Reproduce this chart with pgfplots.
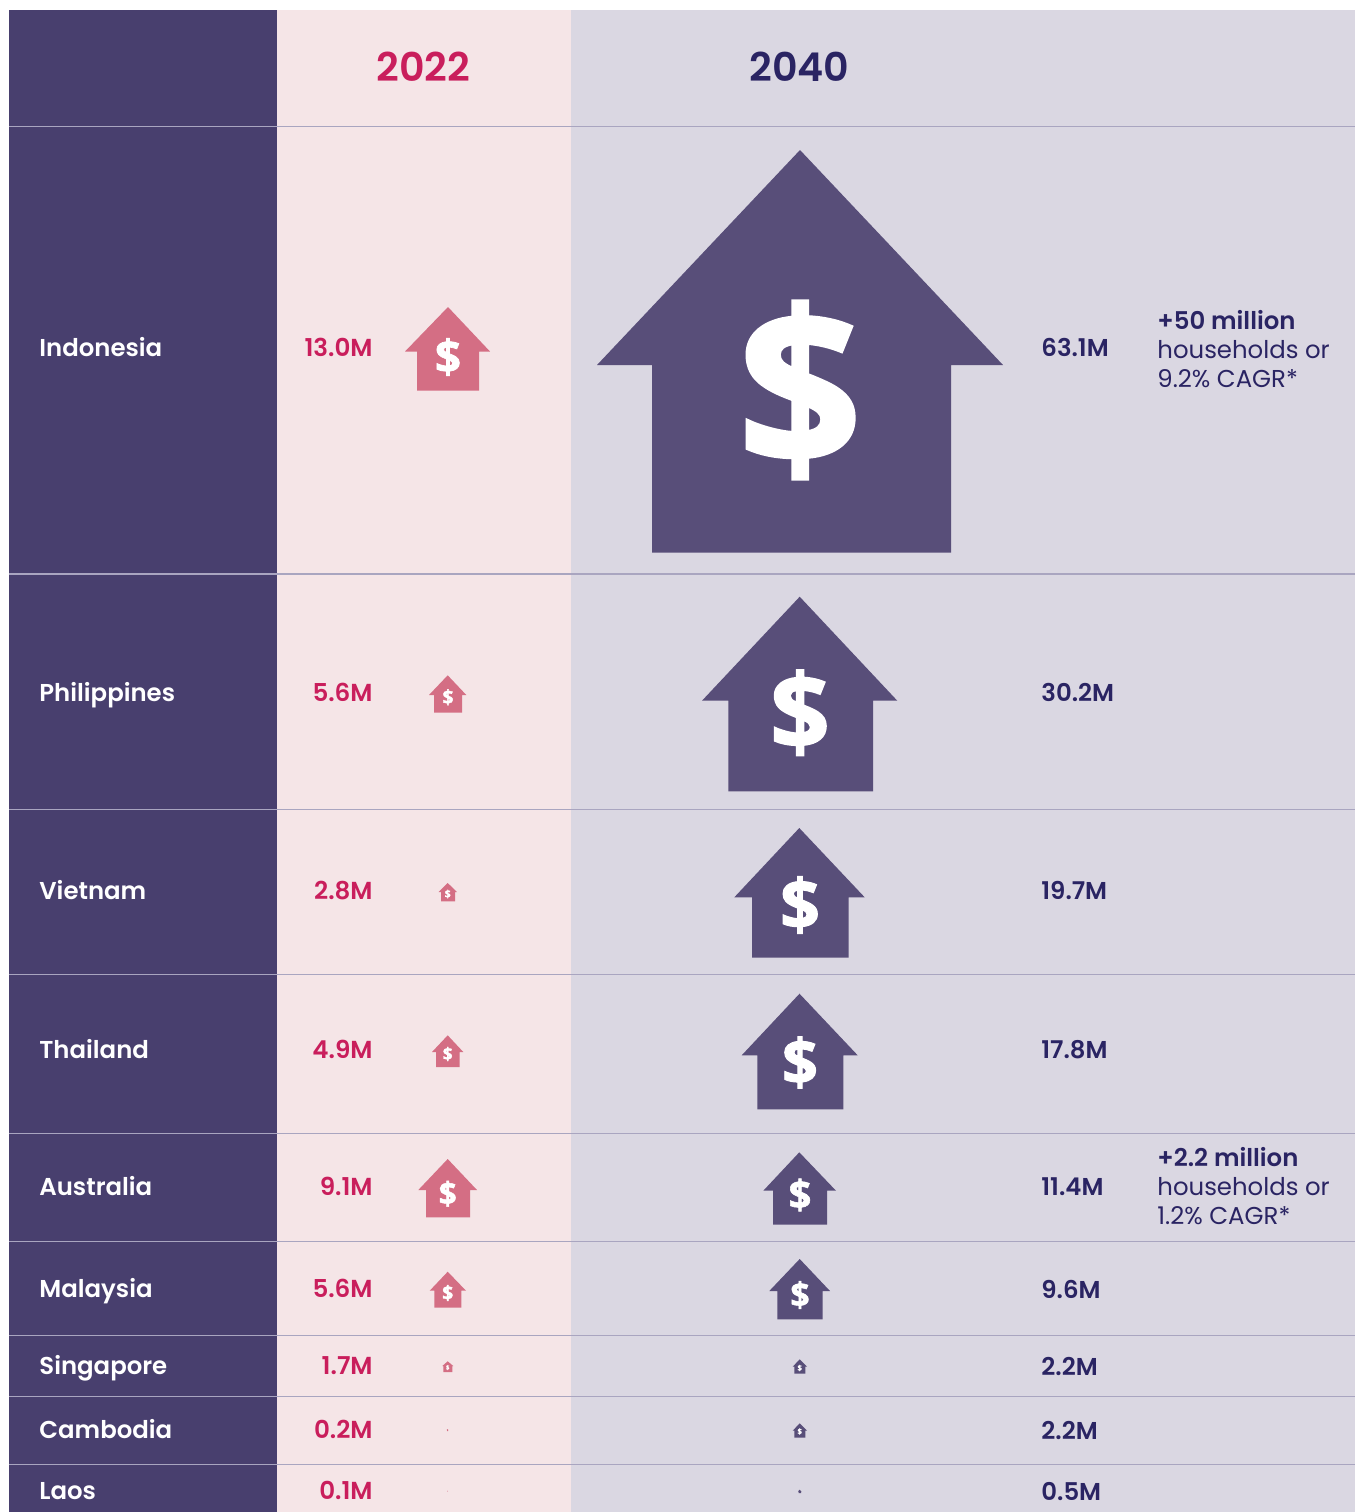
\documentclass[border=0pt]{standalone}
\usepackage{pgfplots}
\pgfplotsset{compat=1.18}
\usepackage{fontspec}
\setmainfont{Poppins}
\newfontfamily\medfont{Poppins Medium}
\newfontfamily\semifont{Poppins SemiBold}
\newfontfamily\dollarfont[BoldFeatures={FakeBold=1.5}]{Open Sans}

\definecolor{colDark}{HTML}{483F6E}
\definecolor{bgPink}{HTML}{F5E5E7}
\definecolor{bgGrey}{HTML}{DAD7E2}
\definecolor{rowLine}{HTML}{A9A5C0}
\definecolor{housePink}{HTML}{D46E84}
\definecolor{housePurple}{HTML}{584E79}
\definecolor{textPink}{HTML}{C91E5C}
\definecolor{textNavy}{HTML}{2A2463}

% country name, value 2022, value 2040 (x fixed, y = baseline in px)
\newcommand{\country}[2]{\node[anchor=base west,inner sep=0pt,text=white,font=\semifont\fontsize{12.2}{15}\selectfont] at (axis cs:39,#1) {#2};}
\newcommand{\valA}[2]{\node[anchor=base east,inner sep=0pt,text=textPink,font=\semifont\fontsize{12.3}{15}\selectfont] at (axis cs:373,#1) {#2};}
\newcommand{\valB}[2]{\node[anchor=base west,inner sep=0pt,text=textNavy,font=\semifont\fontsize{12.2}{15}\selectfont] at (axis cs:1041,#1) {#2};}
\newcommand{\usd}[3]{\node[inner sep=0pt,text=white,font=\dollarfont\bfseries\fontsize{#3}{#3}\selectfont] at (axis cs:#1,#2) {\$};}
\newcommand{\note}[3]{\node[anchor=base west,inner sep=0pt,text=textNavy,font=#2\fontsize{12.2}{15}\selectfont] at (axis cs:1157,#1) {#3};}

\begin{document}
\begin{tikzpicture}
\begin{axis}[
  width=677.5pt, height=756pt, scale only axis,
  xmin=0, xmax=1355, ymin=0, ymax=1512, y dir=reverse,
  hide axis, clip=true, no markers,
]
% page
\addplot[fill=white,draw=none] coordinates {(0,0) (1355,0) (1355,1512) (0,1512) (0,0)};
% column backgrounds
\addplot[fill=colDark,draw=none] coordinates {(9,10) (277,10) (277,1512) (9,1512) (9,10)};
\addplot[fill=bgPink,draw=none] coordinates {(277,10) (571,10) (571,1512) (277,1512) (277,10)};
\addplot[fill=bgGrey,draw=none] coordinates {(571,10) (1355,10) (1355,1512) (571,1512) (571,10)};
% row rules
\addplot[rowLine,line width=0.8pt] coordinates {(9,126.5) (1355,126.5)};
\addplot[rowLine,line width=0.8pt] coordinates {(9,574) (1355,574)};
\addplot[rowLine,line width=0.8pt] coordinates {(9,809.5) (1355,809.5)};
\addplot[rowLine,line width=0.8pt] coordinates {(9,974.5) (1355,974.5)};
\addplot[rowLine,line width=0.8pt] coordinates {(9,1133.5) (1355,1133.5)};
\addplot[rowLine,line width=0.8pt] coordinates {(9,1241.5) (1355,1241.5)};
\addplot[rowLine,line width=0.8pt] coordinates {(9,1335.5) (1355,1335.5)};
\addplot[rowLine,line width=0.8pt] coordinates {(9,1396.3) (1355,1396.3)};
\addplot[rowLine,line width=0.8pt] coordinates {(9,1464.3) (1355,1464.3)};

% houses 2022
\addplot[fill=housePink,draw=none] coordinates {(448,307) (490,351.5) (479,351.5) (479,390.5) (417,390.5) (417,351.5) (405,351.5) (448,307)};
\addplot[fill=housePink,draw=none] coordinates {(447.7,675.3) (466.3,695) (462,695) (462,712.7) (434,712.7) (434,695) (429,695) (447.7,675.3)};
\addplot[fill=housePink,draw=none] coordinates {(447.7,883) (457,892) (455,892) (455,901.3) (441,901.3) (441,892) (438.7,892) (447.7,883)};
\addplot[fill=housePink,draw=none] coordinates {(447.7,1035.3) (463.3,1052) (459.7,1052) (459.7,1067) (436,1067) (436,1052) (432,1052) (447.7,1035.3)};
\addplot[fill=housePink,draw=none] coordinates {(447.7,1159) (477,1190) (470,1190) (470,1217.3) (426,1217.3) (426,1190) (418.3,1190) (447.7,1159)};
\addplot[fill=housePink,draw=none] coordinates {(447.7,1271.7) (466,1290.7) (461.3,1290.7) (461.3,1307.7) (434.3,1307.7) (434.3,1290.7) (429.7,1290.7) (447.7,1271.7)};
\addplot[fill=housePink,draw=none] coordinates {(447.7,1361.3) (453.3,1366) (452.3,1366) (452.3,1372) (443.3,1372) (443.3,1366) (442.3,1366) (447.7,1361.3)};
\addplot[fill=housePink,draw=none] coordinates {(447.5,1429.2) (448.3,1430) (448,1430) (448,1431) (447,1431) (447,1430) (446.7,1430) (447.5,1429.2)};
\addplot[fill=housePink!60!bgPink,draw=none] coordinates {(447.5,1490.5) (448,1491) (447.9,1491) (447.9,1491.6) (447.1,1491.6) (447.1,1491) (447,1491) (447.5,1490.5)};

% houses 2040
\addplot[fill=housePurple,draw=none] coordinates {(800,150) (1003,365) (951,365) (951,552.5) (652,552.5) (652,365) (597,365) (800,150)};
\addplot[fill=housePurple,draw=none] coordinates {(799.7,596.7) (897.3,700.7) (873,700.7) (873,791.3) (728.3,791.3) (728.3,700.7) (702,700.7) (799.7,596.7)};
\addplot[fill=housePurple,draw=none] coordinates {(799.3,828) (864.7,897.3) (848.7,897.3) (848.7,957.7) (752,957.7) (752,897.3) (734.3,897.3) (799.3,828)};
\addplot[fill=housePurple,draw=none] coordinates {(799.5,993.7) (857.7,1055.3) (843.3,1055.3) (843.3,1109.3) (757.3,1109.3) (757.3,1055.3) (741.7,1055.3) (799.5,993.7)};
\addplot[fill=housePurple,draw=none] coordinates {(799.3,1152.3) (836,1190.7) (827,1190.7) (827,1224.7) (773,1224.7) (773,1190.7) (763.3,1190.7) (799.3,1152.3)};
\addplot[fill=housePurple,draw=none] coordinates {(799.7,1259) (830,1291) (822.7,1291) (822.7,1319.3) (777.3,1319.3) (777.3,1291) (769.3,1291) (799.7,1259)};
\addplot[fill=housePurple,draw=none] coordinates {(799.7,1359.3) (807,1366.7) (805.3,1366.7) (805.3,1373.7) (794.3,1373.7) (794.3,1366.7) (792.7,1366.7) (799.7,1359.3)};
\addplot[fill=housePurple,draw=none] coordinates {(799.7,1423.3) (807,1430.7) (805.3,1430.7) (805.3,1437.7) (794.3,1437.7) (794.3,1430.7) (792.7,1430.7) (799.7,1423.3)};
\addplot[fill=housePurple,draw=none] coordinates {(799.7,1489.7) (801.5,1491.5) (801,1491.5) (801,1493) (798.5,1493) (798.5,1491.5) (798,1491.5) (799.7,1489.7)};

% dollar signs
\usd{448}{357}{23}
\usd{448}{697.3}{9.7}
\usd{447.7}{894}{5.2}
\usd{447.7}{1054}{8.6}
\usd{447.7}{1193.7}{15.8}
\usd{447.7}{1293}{9.7}
\usd{447.7}{1367.5}{3}
\usd{800}{390}{109}
\usd{800}{712.7}{52.5}
\usd{800}{905}{35}
\usd{800}{1062.5}{31.6}
\usd{800}{1195}{20}
\usd{800}{1295}{17}
\usd{799.7}{1368}{3.8}
\usd{799.7}{1431.5}{3.8}

% headers
\node[anchor=base,inner sep=0pt,text=textPink,font=\semifont\fontsize{19.8}{24}\selectfont] at (axis cs:423.5,81) {2022};
\node[anchor=base,inner sep=0pt,text=textNavy,font=\semifont\fontsize{19.8}{24}\selectfont] at (axis cs:799.5,81) {2040};

\country{356}{Indonesia}
\country{701}{Philippines}
\country{899}{Vietnam}
\country{1058}{Thailand}
\country{1195}{Australia}
\country{1297}{Malaysia}
\country{1374}{Singapore}
\country{1438}{Cambodia}
\country{1499}{Laos}

\valA{356}{13.0M}
\valA{701}{5.6M}
\valA{899}{2.8M}
\valA{1058}{4.9M}
\valA{1195}{9.1M}
\valA{1297}{5.6M}
\valA{1374}{1.7M}
\valA{1438}{0.2M}
\valA{1499}{0.1M}

\valB{356}{63.1M}
\valB{701}{30.2M}
\valB{899}{19.7M}
\valB{1058}{17.8M}
\valB{1195}{11.4M}
\valB{1298}{9.6M}
\valB{1375}{2.2M}
\valB{1439}{2.2M}
\valB{1500}{0.5M}

\note{329}{\semifont}{+50 million}
\note{358}{\rmfamily}{households or}
\note{387}{\rmfamily}{9.2\% CAGR*}
\note{1166}{\semifont}{+2.2 million}
\note{1195}{\rmfamily}{households or}
\note{1224}{\rmfamily}{1.2\% CAGR*}
\end{axis}
\end{tikzpicture}
\end{document}
